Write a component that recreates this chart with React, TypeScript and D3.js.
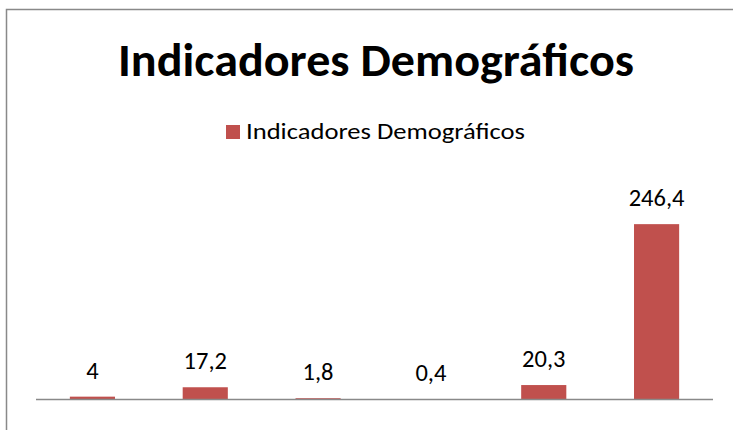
import { useMemo } from 'react'
import * as d3 from 'd3'

const WIDTH = 733
const HEIGHT = 430

const TITLE = 'Indicadores Demográficos'
const SERIES_NAME = 'Indicadores Demográficos'
const categories = ['1', '2', '3', '4', '5', '6']
const values = [4, 17.2, 1.8, 0.4, 20.3, 246.4]
const labels = ['4', '17,2', '1,8', '0,4', '20,3', '246,4']

const BAR_COLOR = '#C0504D'
const LINE_COLOR = '#898989'
const FONT = 'Carlito, Calibri, Lato, sans-serif'

export default function App() {
  const x = useMemo(
    () =>
      d3.scaleBand<string>().domain(categories).range([36, 713]).paddingInner(0.6).paddingOuter(0.3),
    []
  )
  const y = useMemo(() => d3.scaleLinear().domain([0, 300]).range([399.5, 186]), [])

  return (
    <svg
      width={WIDTH}
      height={HEIGHT}
      style={{ position: 'absolute', left: 0, top: 0, background: '#fff' }}
    >
      {/* chart frame, cut off at the right and bottom */}
      <path
        d={`M6.5,${HEIGHT + 2} V9.5 H${WIDTH + 2}`}
        fill="none"
        stroke={LINE_COLOR}
        strokeWidth={1.5}
      />

      <text
        x={376}
        y={76}
        textAnchor="middle"
        fontFamily={FONT}
        fontWeight="bold"
        fontSize={47}
        textLength={516}
        lengthAdjust="spacingAndGlyphs"
        fill="#000"
      >
        {TITLE}
      </text>

      <rect x={226} y={125} width={14} height={14} fill={BAR_COLOR} />
      <text
        x={246}
        y={139}
        fontFamily={FONT}
        fontSize={22}
        textLength={279}
        lengthAdjust="spacingAndGlyphs"
        fill="#000"
      >
        {SERIES_NAME}
      </text>

      {values.map((v, i) => {
        const top = y(v)
        return (
          <g key={categories[i]}>
            <rect
              x={x(categories[i])}
              y={top}
              width={x.bandwidth()}
              height={y(0) - top}
              fill={BAR_COLOR}
            />
            <text
              x={(x(categories[i]) ?? 0) + x.bandwidth() / 2}
              y={top - 18}
              textAnchor="middle"
              fontFamily={FONT}
              fontSize={24.5}
              fill="#000"
            >
              {labels[i]}
            </text>
          </g>
        )
      })}

      <line x1={36} x2={713} y1={399.5} y2={399.5} stroke={LINE_COLOR} strokeWidth={1.5} />
    </svg>
  )
}
